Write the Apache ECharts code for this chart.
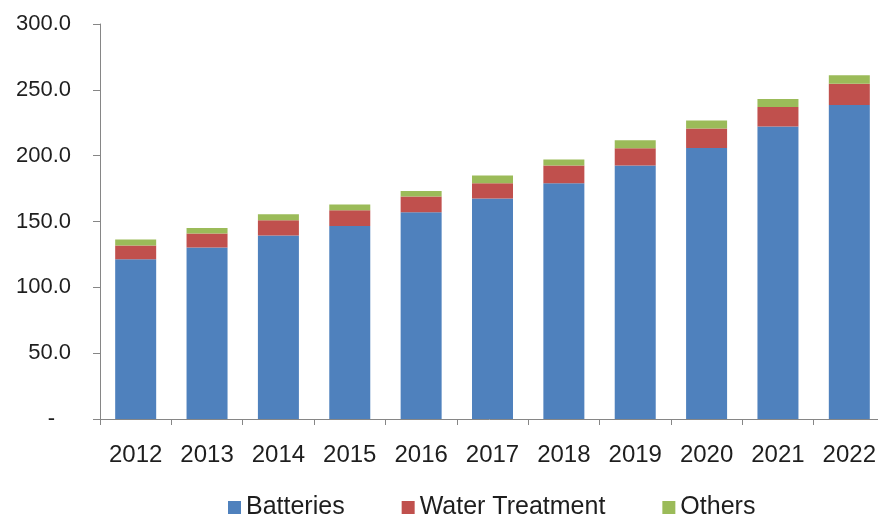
<!DOCTYPE html>
<html>
<head>
<meta charset="utf-8">
<script src="https://cdn.jsdelivr.net/npm/echarts@6/dist/echarts.min.js"></script>
<style>
html,body{margin:0;padding:0;background:#fff;}
#chart{width:878px;height:518px;}
</style>
</head>
<body>
<div id="chart"></div>
<script>
var categories = ['2012','2013','2014','2015','2016','2017','2018','2019','2020','2021','2022'];
var batteries = [121.3, 130.2, 139.3, 146.6, 157.0, 167.4, 179.1, 192.5, 205.9, 222.2, 238.4];
var waterTreatment = [10.4, 10.6, 11.6, 12.0, 12.0, 11.7, 13.4, 13.2, 14.8, 14.7, 16.2];
var others = [4.6, 4.3, 4.6, 4.3, 4.2, 5.8, 4.6, 6.1, 6.1, 6.1, 6.4];
var seriesNames = ['Batteries', 'Water Treatment', 'Others'];
var yTicks = [0, 50, 100, 150, 200, 250, 300];

var FONT = '"Liberation Sans", Arial, sans-serif';
var axisColor = '#868686';
var textColor = '#1e1e1e';

var chart = echarts.init(document.getElementById('chart'), null, {renderer: 'canvas'});
function mk(name, data, color) {
  return {
    name: name, type: 'bar', stack: 'total', data: data,
    barWidth: 41,
    itemStyle: {color: color},
    emphasis: {disabled: true}
  };
}
chart.setOption({
  animation: false,
  backgroundColor: '#fff',
  grid: {left: 100, width: 785, top: 24, height: 395, containLabel: false, outerBoundsMode: 'none'},
  legend: {
    data: seriesNames,
    left: 228, top: 495, padding: 0,
    itemWidth: 13, itemHeight: 13, itemGap: 57,
    icon: 'rect',
    textStyle: {fontFamily: FONT, fontSize: 25, color: textColor}
  },
  xAxis: {
    type: 'category', data: categories,
    axisLine: {lineStyle: {color: axisColor, width: 1}},
    axisTick: {show: true, length: 6, lineStyle: {color: axisColor}},
    axisLabel: {fontFamily: FONT, fontSize: 24, color: textColor, margin: 24}
  },
  yAxis: {
    type: 'value', min: yTicks[0], max: yTicks[yTicks.length - 1], interval: 50,
    splitLine: {show: false},
    axisLine: {show: true, lineStyle: {color: axisColor, width: 1}},
    axisTick: {show: true, length: 7, lineStyle: {color: axisColor}},
    axisLabel: {
      fontFamily: FONT, fontSize: 22, color: textColor, margin: 29,
      formatter: function (v) { return v === 0 ? '{d|-}' : v.toFixed(1); },
      rich: {d: {fontFamily: FONT, fontSize: 22, color: textColor, padding: [0, 16, 0, 0]}}
    }
  },
  series: [
    mk(seriesNames[0], batteries, '#4F81BD'),
    mk(seriesNames[1], waterTreatment, '#C0504D'),
    mk(seriesNames[2], others, '#9BBB59')
  ]
});
</script>
</body>
</html>
